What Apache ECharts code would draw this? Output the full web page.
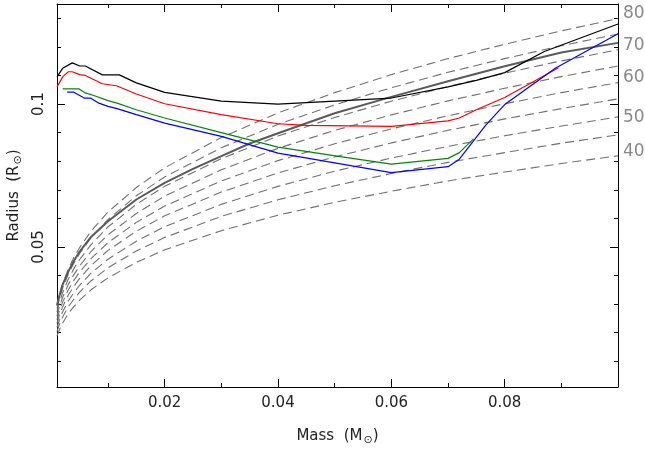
<!DOCTYPE html>
<html>
<head>
<meta charset="utf-8">
<script src="https://cdn.jsdelivr.net/npm/echarts@6/dist/echarts.min.js"></script>
<style>
  html, body { margin: 0; padding: 0; background: #fff; }
  #chart { width: 645px; height: 451px; }
</style>
</head>
<body>
<div id="chart"></div>
<script>
// mass grid shared by the dashed family (Msun)
const dashMass = [0.001, 0.0015, 0.002, 0.003, 0.004, 0.005, 0.007, 0.01, 0.015, 0.02, 0.03, 0.04, 0.05, 0.06, 0.07, 0.08, 0.09, 0.1];

// dashed curves, top to bottom (radius in Rsun)
const dash80 = [0.0297, 0.0339, 0.0372, 0.0423, 0.0464, 0.0498, 0.0555, 0.0622, 0.0708, 0.0777, 0.0883, 0.0969, 0.1040, 0.1103, 0.1159, 0.1209, 0.1256, 0.1299];
const dash75 = [0.0285, 0.0325, 0.0356, 0.0406, 0.0444, 0.0477, 0.0532, 0.0596, 0.0679, 0.0745, 0.0847, 0.0929, 0.0997, 0.1057, 0.1111, 0.1159, 0.1204, 0.1245];
const dash70 = [0.0273, 0.0311, 0.0340, 0.0388, 0.0425, 0.0456, 0.0508, 0.0570, 0.0649, 0.0712, 0.0809, 0.0888, 0.0953, 0.1010, 0.1061, 0.1108, 0.1151, 0.1190];
const dash65 = [0.0259, 0.0296, 0.0324, 0.0369, 0.0404, 0.0434, 0.0484, 0.0543, 0.0617, 0.0678, 0.0770, 0.0845, 0.0908, 0.0962, 0.1011, 0.1055, 0.1096, 0.1133];
const dash60 = [0.0246, 0.0281, 0.0307, 0.0350, 0.0384, 0.0412, 0.0459, 0.0515, 0.0586, 0.0643, 0.0731, 0.0802, 0.0861, 0.0913, 0.0959, 0.1001, 0.1040, 0.1075];
const dash55 = [0.0233, 0.0266, 0.0291, 0.0332, 0.0363, 0.0390, 0.0435, 0.0488, 0.0555, 0.0609, 0.0692, 0.0759, 0.0815, 0.0864, 0.0908, 0.0948, 0.0984, 0.1018];
const dash50 = [0.0219, 0.0249, 0.0273, 0.0311, 0.0341, 0.0366, 0.0408, 0.0457, 0.0520, 0.0571, 0.0649, 0.0712, 0.0765, 0.0811, 0.0852, 0.0889, 0.0923, 0.0955];
const dash45 = [0.0204, 0.0233, 0.0255, 0.0291, 0.0318, 0.0342, 0.0381, 0.0427, 0.0486, 0.0533, 0.0607, 0.0665, 0.0714, 0.0757, 0.0796, 0.0830, 0.0863, 0.0892];
const dash40 = [0.0188, 0.0214, 0.0234, 0.0267, 0.0292, 0.0314, 0.0350, 0.0392, 0.0446, 0.0490, 0.0557, 0.0611, 0.0656, 0.0695, 0.0731, 0.0762, 0.0792, 0.0819];
const dashCurves = [dash80, dash75, dash70, dash65, dash60, dash55, dash50, dash45, dash40];

// thick grey solid curve
const greyMass = [0.001, 0.0015, 0.002, 0.003, 0.004, 0.005, 0.007, 0.01, 0.015, 0.02, 0.025, 0.03, 0.035, 0.04, 0.05, 0.06, 0.07, 0.08, 0.09, 0.1];
const greyRadius = [0.0295, 0.0335, 0.0368, 0.0414, 0.0452, 0.0484, 0.0535, 0.0590, 0.0666, 0.0724, 0.0773, 0.0818, 0.0862, 0.0898, 0.0968, 0.1025, 0.1080, 0.1132, 0.1180, 0.1214];

// coloured tracks
const blackMass = [0.001, 0.002, 0.0037, 0.005, 0.006, 0.009, 0.012, 0.015, 0.02, 0.03, 0.04, 0.05, 0.06, 0.07, 0.075, 0.08, 0.087, 0.1];
const blackRadius = [0.1095, 0.1125, 0.1144, 0.1133, 0.1133, 0.1102, 0.1102, 0.1074, 0.1041, 0.1010, 0.1000, 0.1010, 0.1021, 0.1060, 0.1083, 0.1110, 0.1184, 0.1280];

const redMass = [0.001, 0.002, 0.003, 0.0037, 0.005, 0.006, 0.009, 0.0115, 0.015, 0.02, 0.03, 0.04, 0.045, 0.06, 0.07, 0.072, 0.075, 0.08, 0.0895];
const redRadius = [0.106, 0.1095, 0.1113, 0.1113, 0.1103, 0.110, 0.1071, 0.1064, 0.1035, 0.1001, 0.0963, 0.0931, 0.0925, 0.0922, 0.0941, 0.0951, 0.098, 0.1023, 0.1127];

const greenMass = [0.002, 0.0049, 0.006, 0.0075, 0.01, 0.0116, 0.015, 0.02, 0.03, 0.04, 0.051, 0.06, 0.07, 0.072, 0.0745];
const greenRadius = [0.1053, 0.1053, 0.1039, 0.103, 0.1012, 0.1003, 0.098, 0.0951, 0.090, 0.0849, 0.0816, 0.079, 0.081, 0.083, 0.0878];

const blueMass = [0.0028, 0.0039, 0.0058, 0.0069, 0.0084, 0.01, 0.0116, 0.015, 0.02, 0.03, 0.04, 0.06, 0.07, 0.072, 0.0767, 0.08, 0.089, 0.1];
const blueRadius = [0.1042, 0.1042, 0.1021, 0.1021, 0.1003, 0.0992, 0.0984, 0.0963, 0.0933, 0.0887, 0.0828, 0.076, 0.0781, 0.0807, 0.0927, 0.0998, 0.1126, 0.1246];

// axis ticks and the grey labels down the right side
const xMajorTicks = [0.02, 0.04, 0.06, 0.08];
const xMinorTicks = [0.01, 0.03, 0.05, 0.07, 0.09];
const yMajorTicks = [0.05, 0.1];
const yMinorTicks = [0.01, 0.02, 0.03, 0.04, 0.06, 0.07, 0.08, 0.09, 0.11, 0.12, 0.13];
const rightLabelAt = [0.1315, 0.1205, 0.1092, 0.0952, 0.0835];
const rightLabelText = ['80', '70', '60', '50', '40'];

const chart = echarts.init(document.getElementById('chart'), null, { renderer: 'canvas' });

const FONT = 'DejaVu Sans';
const xRange = { min: 0.001, max: 0.1 };
const yRange = { min: 0.001, max: 0.135 };

function zip(xs, ys) {
  return xs.map((x, i) => [x, ys[i]]);
}

function tickAxis(pos, ticks, len, showLine) {
  let vertical = pos === 'left' || pos === 'right';
  return {
    type: 'value',
    position: pos,
    min: vertical ? yRange.min : xRange.min,
    max: vertical ? yRange.max : xRange.max,
    axisLine: { show: showLine, onZero: false, lineStyle: { color: '#000', width: 1 } },
    axisTick: { show: true, inside: true, length: len, customValues: ticks, lineStyle: { color: '#000', width: 1 } },
    axisLabel: { show: false },
    splitLine: { show: false }
  };
}

const subRich = {
  s: { fontFamily: FONT, fontSize: 11, color: '#222', padding: [8, 0, 0, 1] }
};

let xMain = tickAxis('bottom', xMajorTicks, 8, true);
xMain.axisLabel = {
  show: true,
  customValues: xMajorTicks,
  margin: 9,
  fontFamily: FONT,
  fontSize: 15,
  color: '#222',
  formatter: v => v.toFixed(2)
};
xMain.name = 'Mass  (M{s|⊙})';
xMain.nameLocation = 'middle';
xMain.nameGap = 40;
xMain.nameTextStyle = { fontFamily: FONT, fontSize: 15, color: '#222', rich: subRich };

let yMain = tickAxis('left', yMajorTicks, 8, true);
yMain.axisLabel = {
  show: true,
  customValues: yMajorTicks,
  rotate: 90,
  margin: 10,
  fontFamily: FONT,
  fontSize: 15,
  color: '#222',
  formatter: v => String(Math.round(v * 100) / 100)
};
yMain.name = 'Radius  (R{s|⊙})';
yMain.nameLocation = 'middle';
yMain.nameGap = 32;
yMain.nameTextStyle = { fontFamily: FONT, fontSize: 15, color: '#222', rich: subRich };

let yRightLabels = tickAxis('right', [], 0, false);
yRightLabels.axisTick = { show: false };
yRightLabels.axisLabel = {
  show: true,
  customValues: rightLabelAt,
  margin: 5,
  fontFamily: FONT,
  fontSize: 17,
  color: '#888',
  formatter: v => rightLabelText[rightLabelAt.indexOf(v)]
};

let series = dashCurves.map((radius, i) => ({
  name: 'dash' + i,
  type: 'line',
  data: zip(dashMass, radius),
  showSymbol: false,
  silent: true,
  lineStyle: { color: '#707070', width: 1.1, type: [9, 5] }
}));

series.push({
  name: 'grey',
  type: 'line',
  data: zip(greyMass, greyRadius),
  showSymbol: false,
  lineStyle: { color: '#5a5a5a', width: 2 }
});

const tracks = [
  ['black', blackMass, blackRadius, '#000000'],
  ['red', redMass, redRadius, '#ff0000'],
  ['green', greenMass, greenRadius, '#008a00'],
  ['blue', blueMass, blueRadius, '#0000ff']
];
tracks.forEach(t => {
  series.push({
    name: t[0],
    type: 'line',
    data: zip(t[1], t[2]),
    showSymbol: false,
    lineStyle: { color: t[3], width: 1.2 }
  });
});

let option = {
  backgroundColor: '#fff',
  animation: false,
  // keep the plot box exactly where the reference has it
  grid: { left: 57, right: 27, top: 4, bottom: 64, containLabel: false, outerBoundsMode: 'none' },
  xAxis: [
    xMain,
    tickAxis('bottom', xMinorTicks, 4, false),
    tickAxis('top', xMajorTicks, 8, true),
    tickAxis('top', xMinorTicks, 4, false)
  ],
  yAxis: [
    yMain,
    tickAxis('left', yMinorTicks, 4, false),
    tickAxis('right', yMajorTicks, 8, true),
    tickAxis('right', yMinorTicks, 4, false),
    yRightLabels
  ],
  series: series
};

chart.setOption(option);
</script>
</body>
</html>
